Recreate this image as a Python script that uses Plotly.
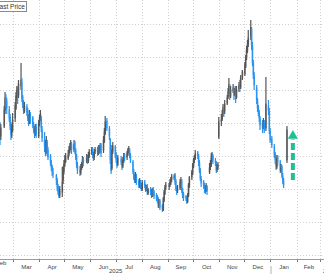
import pandas as pd
import plotly.graph_objects as go

# Trading calendar (US holidays removed)
start_date = "2025-02-13"
end_date = "2026-01-20"
holidays = ["2025-02-17", "2025-04-18", "2025-05-26", "2025-06-19", "2025-07-04",
            "2025-09-01", "2025-11-27", "2025-12-25", "2026-01-01", "2026-01-19"]

# Daily OHLC values (one line per week)
opens = [
    16.8, 16.4,
    17.4, 19.0, 20.3, 19.9,
    19.0, 18.3, 17.5, 16.5, 17.0,
    18.2, 19.2, 20.3, 21.1, 20.5,
    21.4, 21.8, 20.3, 19.5, 18.9,
    19.3, 18.9, 18.1, 17.9, 18.5,
    18.2, 17.5, 17.1, 16.7, 17.3,
    16.4, 17.7, 18.1, 18.2, 17.0,
    16.0, 15.6, 14.8, 15.8, 15.0,
    14.4, 13.7, 13.3, 12.7,
    12.4, 11.9, 11.4, 10.9, 10.5,
    10.8, 12.0, 12.9, 13.5, 13.9,
    14.2, 14.6, 14.9, 15.2, 15.5,
    15.0, 15.7, 14.9, 14.4, 13.5,
    12.9, 12.7, 13.3, 13.4, 14.1,
    13.9, 14.3, 13.9, 14.4,
    14.7, 15.1, 14.5, 14.3, 14.9,
    15.1, 14.7, 15.3, 14.9, 15.5,
    15.0, 15.9, 16.7, 17.9,
    17.1, 16.0, 13.8, 13.2, 14.9,
    15.3, 14.6, 13.9, 13.6,
    14.1, 13.7, 13.4, 13.9, 14.5,
    14.3, 14.6, 14.9, 15.0, 14.4,
    13.8, 12.8, 12.4, 11.9, 12.4,
    11.9, 11.4, 11.8, 11.5, 11.1,
    11.8, 11.4, 11.0, 11.4, 10.7,
    11.1, 10.9, 10.4, 11.1, 10.8,
    10.5, 10.3, 10.1, 9.4, 9.9,
    9.4, 9.0, 10.0, 10.7, 11.3,
    11.4, 11.6, 11.7, 12.1,
    12.2, 12.5, 11.9, 11.1, 11.0,
    11.2, 11.7, 11.9, 10.9, 10.6,
    10.3, 10.1, 9.9, 10.5, 11.4,
    12.3, 12.7, 13.4, 14.1, 14.2,
    14.7, 14.4, 13.7, 12.9, 12.1,
    11.8, 11.4, 11.3, 10.9, 11.3,
    12.8, 13.3, 13.5, 14.3, 14.4,
    13.9, 13.7, 13.1, 13.3, 16.3,
    17.9, 18.1, 18.6, 19.1, 18.9,
    19.7, 20.3, 20.9, 21.4, 20.4,
    20.9, 21.1, 20.6, 21.0, 20.3,
    21.1, 21.6, 21.3, 22.3,
    22.6, 23.4, 24.3, 24.9, 25.6,
    26.4, 27.0, 25.4, 23.7, 22.4,
    21.2, 19.9, 19.3, 18.7, 18.1,
    17.6, 17.3, 17.7, 17.2,
    19.4, 18.8, 16.9, 16.1,
    15.3, 14.6, 13.9, 13.3, 14.3,
    13.7, 12.9, 13.3, 12.4, 11.9,
    14.0,
]
highs = [
    17.8, 17.6,
    19.4, 20.8, 20.6, 20.2,
    19.4, 18.6, 17.8, 17.6, 18.7,
    19.8, 20.8, 21.4, 21.3, 22.0,
    23.7, 22.2, 20.5, 20.0, 19.8,
    19.6, 19.2, 18.6, 19.0, 18.8,
    18.4, 17.8, 17.4, 17.6, 17.6,
    18.0, 18.5, 19.0, 18.4, 17.4,
    16.8, 16.0, 16.4, 16.0, 15.3,
    14.6, 14.0, 13.5, 13.2,
    12.6, 12.2, 11.6, 11.2, 11.4,
    13.3, 13.4, 14.0, 14.5, 14.7,
    15.0, 15.4, 15.7, 16.0, 15.8,
    16.0, 15.9, 15.2, 14.6, 13.8,
    13.4, 13.6, 13.8, 14.4, 14.3,
    14.6, 14.5, 14.8, 15.1,
    15.3, 15.3, 14.8, 15.1, 15.3,
    15.3, 15.5, 15.5, 15.7, 15.7,
    16.4, 17.2, 18.4, 18.2,
    17.4, 16.2, 14.2, 15.5, 15.8,
    15.5, 14.8, 14.2, 14.5,
    14.4, 14.0, 14.3, 14.7, 14.7,
    14.9, 15.2, 15.4, 15.2, 14.7,
    14.0, 13.1, 12.6, 12.8, 12.6,
    12.1, 12.2, 12.0, 11.7, 12.0,
    12.0, 11.6, 11.5, 11.6, 11.2,
    11.3, 11.1, 11.2, 11.3, 11.0,
    10.7, 10.5, 10.3, 10.1, 10.1,
    9.6, 10.3, 11.0, 11.5, 11.8,
    11.7, 12.1, 12.3, 12.6,
    12.6, 12.7, 12.1, 11.4, 11.5,
    12.1, 12.3, 12.1, 11.2, 10.8,
    10.5, 10.4, 10.7, 11.7, 12.4,
    13.0, 13.7, 14.2, 14.5, 15.0,
    14.9, 14.6, 14.0, 13.2, 12.4,
    12.0, 11.7, 11.5, 11.7, 11.5,
    13.7, 14.0, 14.7, 14.8, 14.6,
    14.2, 13.9, 13.6, 13.8, 18.3,
    18.6, 19.0, 19.6, 19.4, 20.0,
    20.5, 21.2, 22.2, 21.6, 21.4,
    21.6, 21.4, 21.2, 21.4, 21.4,
    21.8, 22.0, 22.5, 23.0,
    23.8, 24.5, 25.4, 26.0, 27.0,
    28.0, 27.3, 25.8, 24.0, 22.8,
    21.5, 20.2, 19.5, 19.0, 18.4,
    18.0, 18.2, 18.0, 22.3,
    20.0, 19.2, 17.2, 16.4,
    15.6, 14.8, 14.2, 14.5, 14.5,
    14.0, 13.6, 13.5, 12.7, 12.2,
    17.4,
]
lows = [
    15.5, 16.0,
    17.2, 18.6, 19.2, 18.6,
    17.8, 17.0, 16.0, 16.2, 16.8,
    17.8, 19.0, 20.0, 19.6, 20.2,
    21.0, 19.8, 19.2, 18.6, 18.7,
    18.4, 17.9, 17.4, 17.6, 17.6,
    17.2, 16.7, 16.2, 16.4, 16.2,
    16.2, 17.4, 17.9, 16.8, 15.8,
    14.8, 14.4, 14.6, 14.4, 14.0,
    13.4, 12.9, 12.4, 12.2,
    11.5, 10.9, 10.5, 10.2, 10.2,
    10.3, 11.6, 12.6, 13.3, 13.7,
    14.0, 14.4, 14.7, 15.0, 14.6,
    14.8, 14.6, 14.0, 13.2, 12.6,
    12.4, 12.5, 13.0, 13.2, 13.4,
    13.7, 13.6, 13.7, 14.2,
    14.5, 14.2, 13.9, 14.0, 14.6,
    14.4, 14.5, 14.6, 14.7, 14.3,
    14.7, 15.7, 16.5, 16.9,
    16.0, 13.6, 12.6, 13.0, 14.6,
    14.2, 13.7, 13.2, 13.4,
    13.5, 13.0, 13.2, 13.7, 13.9,
    14.0, 14.4, 14.7, 14.2, 13.7,
    12.6, 12.0, 11.7, 11.7, 11.5,
    11.2, 11.2, 11.1, 10.9, 10.9,
    11.2, 10.8, 10.9, 10.5, 10.5,
    10.5, 10.2, 10.3, 10.4, 10.1,
    9.9, 9.7, 9.2, 9.2, 9.0,
    8.8, 8.9, 9.8, 10.5, 11.0,
    11.0, 11.3, 11.5, 11.8,
    12.0, 11.5, 10.9, 10.5, 10.7,
    11.0, 11.5, 10.7, 10.2, 9.9,
    9.9, 9.6, 9.7, 10.3, 11.2,
    12.0, 12.5, 13.2, 13.7, 14.0,
    14.1, 13.4, 12.7, 11.9, 11.3,
    11.1, 10.7, 10.6, 10.8, 10.5,
    12.6, 13.0, 13.3, 13.8, 13.6,
    13.4, 12.7, 12.8, 13.0, 16.1,
    17.4, 17.9, 18.4, 18.3, 18.6,
    19.5, 20.1, 20.7, 20.0, 20.2,
    20.7, 20.0, 20.4, 19.7, 20.1,
    20.8, 20.8, 21.1, 22.0,
    22.4, 23.2, 24.0, 24.7, 25.3,
    26.0, 25.0, 23.4, 22.1, 21.0,
    19.6, 18.8, 18.4, 17.8, 17.0,
    16.7, 17.1, 16.7, 16.9,
    18.5, 16.6, 15.7, 15.2,
    14.2, 13.6, 13.0, 13.1, 13.4,
    12.7, 12.7, 12.2, 11.6, 11.2,
    13.7,
]
closes = [
    16.2, 17.2,
    19.0, 20.2, 19.8, 19.2,
    18.2, 17.4, 16.6, 17.2, 18.0,
    19.4, 20.4, 21.0, 20.6, 21.6,
    22.0, 20.2, 19.6, 19.0, 19.4,
    18.8, 18.2, 17.8, 18.6, 18.0,
    17.6, 17.0, 16.6, 17.2, 16.6,
    17.6, 18.2, 18.6, 17.2, 16.2,
    15.4, 15.0, 16.0, 14.8, 14.3,
    13.8, 13.2, 12.8, 12.6,
    12.0, 11.2, 10.8, 10.4, 11.0,
    11.8, 13.0, 13.6, 14.0, 14.3,
    14.5, 15.0, 15.3, 15.6, 15.1,
    15.6, 15.0, 14.3, 13.6, 13.0,
    12.8, 13.2, 13.5, 14.0, 13.8,
    14.2, 14.0, 14.5, 14.8,
    15.0, 14.6, 14.2, 14.8, 15.0,
    14.8, 15.2, 15.0, 15.4, 14.7,
    16.0, 16.8, 17.8, 17.2,
    16.4, 14.0, 12.9, 15.0, 15.4,
    14.5, 14.0, 13.5, 14.2,
    13.8, 13.3, 14.0, 14.4, 14.2,
    14.7, 15.0, 15.1, 14.5, 14.0,
    12.9, 12.3, 12.0, 12.5, 11.8,
    11.5, 11.9, 11.4, 11.2, 11.7,
    11.5, 11.1, 11.3, 10.8, 11.0,
    10.8, 10.5, 11.0, 10.7, 10.4,
    10.2, 10.0, 9.5, 9.8, 9.3,
    9.1, 10.1, 10.8, 11.2, 11.5,
    11.5, 11.8, 12.0, 12.3,
    12.4, 11.8, 11.2, 10.9, 11.1,
    11.8, 12.0, 11.0, 10.5, 10.2,
    10.2, 9.8, 10.4, 11.5, 12.2,
    12.8, 13.5, 14.0, 14.3, 14.6,
    14.5, 13.8, 13.0, 12.2, 11.7,
    11.5, 11.2, 11.0, 11.4, 10.9,
    13.2, 13.6, 14.2, 14.5, 14.0,
    13.8, 13.0, 13.2, 13.5, 17.8,
    18.0, 18.5, 19.2, 18.8, 19.6,
    20.2, 20.8, 21.5, 20.5, 21.0,
    21.2, 20.5, 20.8, 20.2, 21.0,
    21.5, 21.2, 22.2, 22.8,
    23.5, 24.2, 25.0, 25.5, 26.2,
    27.2, 25.5, 23.8, 22.5, 21.5,
    20.0, 19.2, 18.8, 18.2, 17.5,
    17.2, 17.8, 17.0, 19.6,
    19.0, 17.0, 16.0, 15.5,
    14.5, 14.0, 13.4, 14.2, 13.8,
    13.0, 13.2, 12.5, 12.0, 11.5,
    17.0,
]

# Annotation arrow (green dashed up-arrow)
arrow_date = "2026-01-27"
arrow_base_left = "2026-01-21T12:00"
arrow_base_right = "2026-02-01T12:00"
arrow_bottom = 12.0
arrow_head_base = 16.15
arrow_tip = 16.95

# Axis texts
first_month_label = "Feb"
first_month_mid = "2025-02-15"
year_labels = ["2025", "2026"]

dates = pd.bdate_range(start_date, end_date)
dates = dates[~dates.isin(pd.to_datetime(holidays))]
n = min(len(dates), len(opens), len(highs), len(lows), len(closes))
dates = dates[:n]

fig = go.Figure()
fig.add_trace(go.Candlestick(
    x=dates, open=opens[:n], high=highs[:n], low=lows[:n], close=closes[:n],
    increasing=dict(line=dict(color="#555555", width=1.2), fillcolor="#3a3a3a"),
    decreasing=dict(line=dict(color="#2a93ef", width=1.2), fillcolor="#2a93ef"),
    whiskerwidth=0, showlegend=False, hoverinfo="skip",
))

arrow_color = "#1dbf93"
fig.add_shape(type="line", xref="x", yref="y",
              x0=arrow_date, x1=arrow_date, y0=arrow_bottom, y1=arrow_head_base - 0.1,
              line=dict(color=arrow_color, width=4, dash="7px,3px"))
fig.add_trace(go.Scatter(
    x=[arrow_base_left, arrow_date, arrow_base_right, arrow_base_left],
    y=[arrow_head_base, arrow_tip, arrow_head_base, arrow_head_base],
    mode="lines", fill="toself", fillcolor=arrow_color,
    line=dict(color=arrow_color, width=0.5), showlegend=False, hoverinfo="skip",
))

# year separator below axis
fig.add_shape(type="line", xref="x", yref="paper", x0="2026-01-01", x1="2026-01-01",
              y0=-0.027, y1=-0.06, line=dict(color="#b0b0b0", width=1))

lab_font = dict(size=6, color="#444", family="Liberation Sans, Arial")
fig.add_annotation(text=first_month_label, xref="x", yref="paper", x=first_month_mid, y=-0.016,
                   showarrow=False, xanchor="center", yanchor="middle", font=lab_font)
fig.add_annotation(text=year_labels[0], xref="paper", yref="paper", x=116 / 324, y=-0.047,
                   showarrow=False, xanchor="center", yanchor="middle", font=lab_font)
fig.add_annotation(text=year_labels[1], xref="paper", yref="paper", x=321 / 324, y=-0.047,
                   showarrow=False, xanchor="left", yanchor="middle", font=lab_font)

fig.add_annotation(text="Last Price", xref="paper", yref="paper", x=27 / 324, y=1 - 1 / 259,
                   showarrow=False, xanchor="right", yanchor="top",
                   bgcolor="white", bordercolor="#8a8a8a", borderwidth=1, borderpad=1,
                   font=dict(size=6.5, color="#333", family="Liberation Sans, Arial"))

fig.update_layout(
    width=324, height=274,
    margin=dict(l=0, r=0, t=0, b=15),
    paper_bgcolor="white", plot_bgcolor="white",
    xaxis=dict(
        type="date", range=["2025-02-13", "2026-03-05"],
        rangeslider=dict(visible=False),
        tick0="2025-01-01", dtick="M1", tickformat="%b", ticklabelmode="period",
        showgrid=True, gridcolor="#d0d0d0", griddash="1px,2px", gridwidth=1,
        showline=True, linecolor="#9a9a9a", linewidth=1,
        ticks="outside", ticklen=2, tickcolor="#777",
        tickfont=lab_font,
        zeroline=False,
    ),
    yaxis=dict(
        range=[4.1, 30], tick0=4.5, dtick=3.3,
        showgrid=True, gridcolor="#d0d0d0", griddash="1px,2px", gridwidth=1,
        showticklabels=False, zeroline=False, showline=False,
    ),
)

fig.write_html("out.html")
